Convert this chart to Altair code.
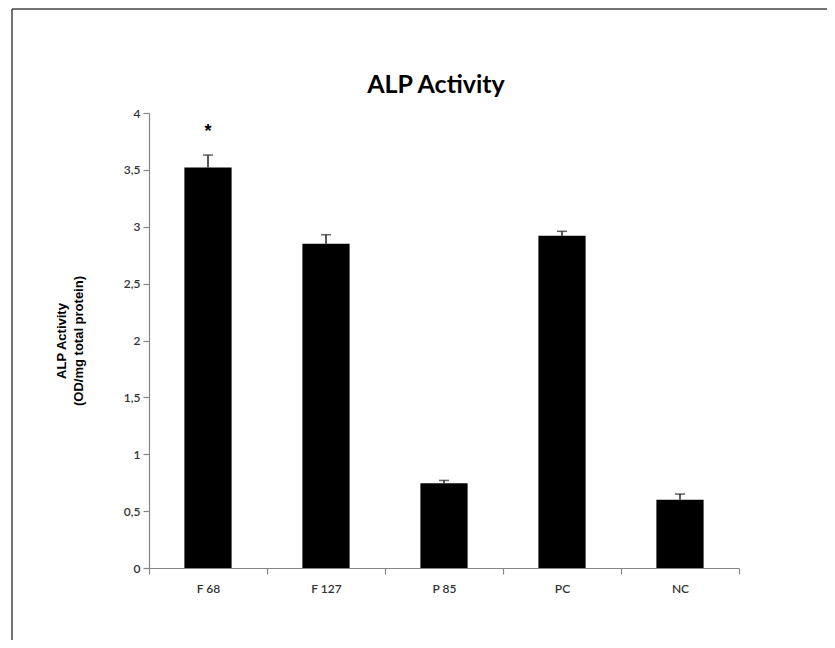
import altair as alt
import pandas as pd

categories = ["F 68", "F 127", "P 85", "PC", "NC"]
values = [3.52, 2.85, 0.745, 2.92, 0.60]
errors = [0.11, 0.08, 0.025, 0.04, 0.05]
star_labels = ["*"]
star_cats = ["F 68"]
star_y = [3.83]
y_ticks = [0, 0.5, 1, 1.5, 2, 2.5, 3, 3.5, 4]
chart_title = ["ALP Activity"]

W, H = 590, 455
PAD_L, PAD_T, PAD_R, PAD_B = 141, 105, 88, 72

df = pd.DataFrame({"cat": categories, "val": values, "err": errors})
df["top"] = df["val"] + df["err"]
stars = pd.DataFrame({"cat": star_cats, "y": star_y, "t": star_labels})
frame = pd.DataFrame({"k": [0]})
title_df = pd.DataFrame({"t": chart_title})

axis_grey = "#868686"
x_enc = alt.X(
    "cat:N",
    sort=categories,
    scale=alt.Scale(paddingInner=0, paddingOuter=0),
    axis=alt.Axis(
        title=None, tickBand="extent", labelAngle=0, domainColor=axis_grey,
        tickColor=axis_grey, tickSize=6, labelPadding=9, labelFont="Lato",
        labelFontSize=12, labelColor="#333333", labelFontWeight=600,
        domainWidth=1.2, tickWidth=1.2,
    ),
)
y_scale = alt.Scale(domain=[0, 4])

bars = alt.Chart(df).mark_bar(color="black", width=alt.RelativeBandSize(0.4)).encode(
    x=x_enc,
    y=alt.Y(
        "val:Q",
        scale=y_scale,
        axis=alt.Axis(
            values=y_ticks,
            labelExpr="replace(format(datum.value, '~g'), '.', ',')",
            grid=False,
            tickSize=6, domainColor=axis_grey, tickColor=axis_grey, domainWidth=1.2,
            tickWidth=1.2, labelFont="Lato", labelFontSize=12, labelColor="#333333",
            labelFontWeight=600, labelPadding=3,
            title=["ALP Activity", "(OD/mg total protein)"], titleFont="Liberation Sans",
            titleFontSize=13, titleFontWeight="bold", titleColor="black",
            titlePadding=38, titleLineHeight=17,
        ),
    ),
)

err_rule = alt.Chart(df).mark_rule(color="#222222", strokeWidth=1.5).encode(
    x=alt.X("cat:N", sort=categories), y=alt.Y("val:Q", scale=y_scale), y2="top:Q"
)
err_cap = alt.Chart(df).mark_tick(color="#222222", size=10, thickness=1.5).encode(
    x=alt.X("cat:N", sort=categories), y=alt.Y("top:Q", scale=y_scale)
)
star = alt.Chart(stars).mark_text(fontSize=18, fontWeight="bold", font="Liberation Sans",
                                 baseline="middle", color="black").encode(
    x=alt.X("cat:N", sort=categories), y=alt.Y("y:Q", scale=y_scale), text="t:N"
)

title_mark = alt.Chart(title_df).mark_text(
    font="Lato", fontSize=25, fontWeight="bold", color="black",
    align="center", baseline="middle",
).encode(x=alt.value(W / 2 - 8), y=alt.value(-28), text="t:N")

frame_left = alt.Chart(frame).mark_rule(color="#444444", strokeWidth=1.5).encode(
    x=alt.value(-137), y=alt.value(-104), y2=alt.value(H + PAD_B)
)
frame_top = alt.Chart(frame).mark_rule(color="#444444", strokeWidth=1.5).encode(
    x=alt.value(-137), x2=alt.value(W + PAD_R), y=alt.value(-104)
)

chart = alt.layer(bars, err_rule, err_cap, star, title_mark, frame_left, frame_top).properties(
    width=W, height=H,
    autosize=alt.AutoSizeParams(type="none"),
    padding={"left": PAD_L, "top": PAD_T, "right": PAD_R, "bottom": PAD_B},
).configure_view(stroke=None)

chart.save("out.html", embed_options={"renderer": "svg", "actions": False})
